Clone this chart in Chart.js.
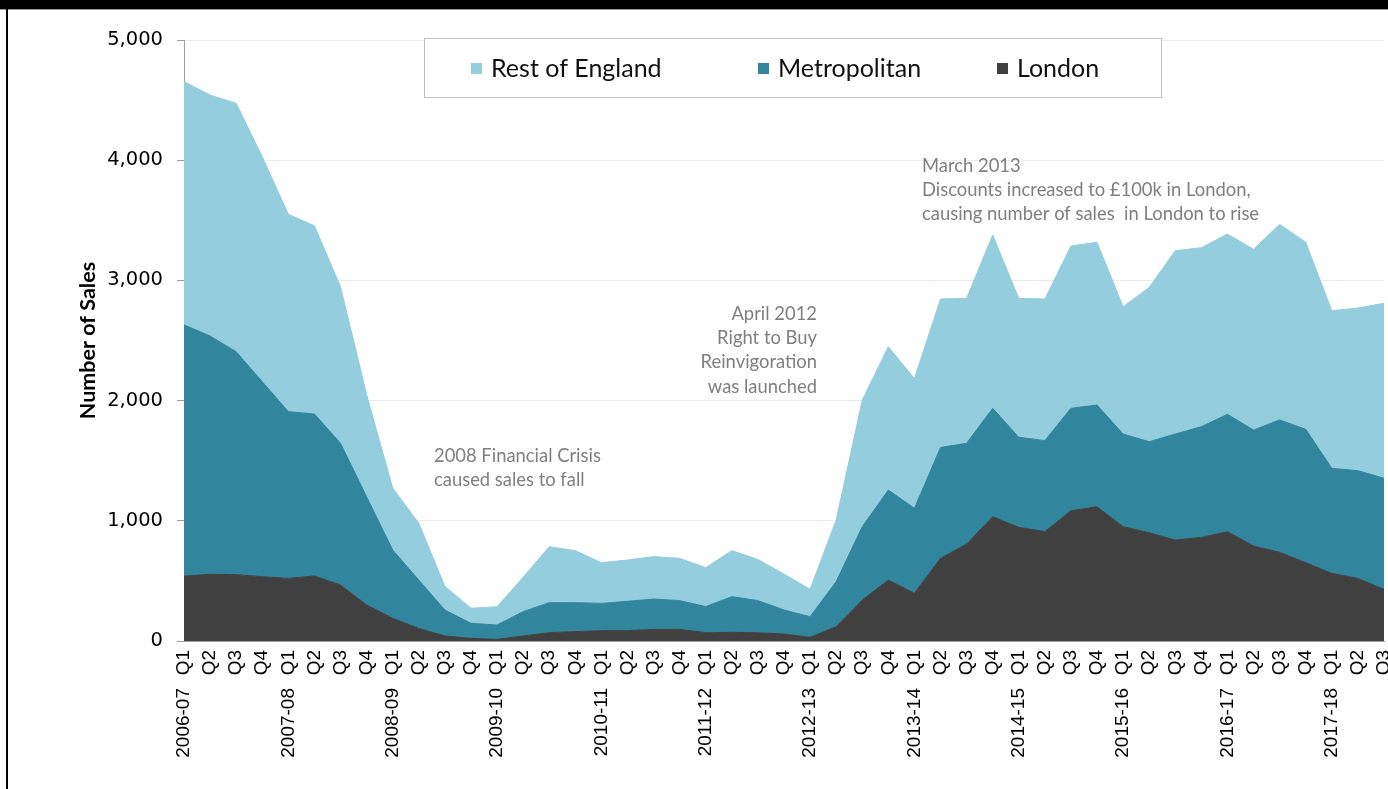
<!DOCTYPE html>
<html>
<head>
<meta charset="utf-8">
<script src="https://cdn.jsdelivr.net/npm/chart.js@4.4.0/dist/chart.umd.min.js"></script>
<style>
  html, body { margin: 0; padding: 0; background: #fff; }
  #wrap { position: relative; width: 1388px; height: 789px; overflow: hidden; }
  #topBand { position: absolute; left: 0; top: 0; width: 1388px; height: 9px; background: #000; border-bottom: 1px solid #999; }
  #leftLine { position: absolute; left: 6px; top: 0; width: 2px; height: 789px; background: #000; }
  canvas { position: absolute; left: 0; top: 0; }
</style>
</head>
<body>
<div id="wrap">
  <canvas id="myChart" width="1388" height="789"></canvas>
  <div id="topBand"></div>
  <div id="leftLine"></div>
</div>
<script>
// Quarter labels (2006-07 Q1 to 2017-18 Q3)
let quarterLabels = [
  'Q1','Q2','Q3','Q4', 'Q1','Q2','Q3','Q4', 'Q1','Q2','Q3','Q4',
  'Q1','Q2','Q3','Q4', 'Q1','Q2','Q3','Q4', 'Q1','Q2','Q3','Q4',
  'Q1','Q2','Q3','Q4', 'Q1','Q2','Q3','Q4', 'Q1','Q2','Q3','Q4',
  'Q1','Q2','Q3','Q4', 'Q1','Q2','Q3','Q4', 'Q1','Q2','Q3'
];
let yearLabels = [
  '2006-07','','','', '2007-08','','','', '2008-09','','','',
  '2009-10','','','', '2010-11','','','', '2011-12','','','',
  '2012-13','','','', '2013-14','','','', '2014-15','','','',
  '2015-16','','','', '2016-17','','','', '2017-18','',''
];

// Number of sales per quarter
let london = [540, 555, 552, 535, 521, 541, 466, 300, 189, 105,
  42, 22, 14, 42, 69, 78, 86, 86, 97, 97,
  69, 72, 69, 58, 31, 119, 341, 507, 397, 688,
  807, 1034, 946, 910, 1084, 1117, 951, 901, 840, 862,
  910, 790, 738, 651, 563, 521, 430];
let metropolitan = [2090, 1982, 1855, 1622, 1387, 1347, 1179, 900, 568, 402,
  216, 125, 119, 202, 250, 241, 227, 244, 252, 239,
  217, 297, 267, 200, 171, 375, 610, 749, 707, 922,
  838, 902, 749, 757, 852, 846, 771, 757, 882, 921,
  976, 965, 1101, 1110, 874, 896, 924];
let restOfEngland = [2023, 2005, 2066, 1872, 1642, 1567, 1303, 850, 516, 473,
  197, 126, 152, 286, 466, 433, 339, 344, 353, 352,
  324, 383, 343, 299, 228, 513, 1054, 1192, 1079, 1235,
  1206, 1442, 1156, 1178, 1350, 1354, 1059, 1284, 1525, 1489,
  1500, 1504, 1628, 1556, 1311, 1353, 1455];

// Annotation texts
let crisisNote = ['2008 Financial Crisis', 'caused sales to fall'];
let rtbNote = ['April 2012', 'Right to Buy', 'Reinvigoration', 'was launched'];
let discountNote = ['March 2013', 'Discounts increased to \u00a3100k in London,', 'causing number of sales  in London to rise'];

let londonColour = '#404040';
let metroColour = '#31859c';
let restColour = '#94cddd';

// Boxed legend drawn over the top of the plot
let legendBox = {
  id: 'legendBox',
  afterDraw(chart) {
    let c = chart.ctx;
    let itemX = [471, 758, 997];
    c.save();
    c.fillStyle = '#fff';
    c.fillRect(424.5, 38.5, 737, 59);
    c.strokeStyle = '#bfbfbf';
    c.lineWidth = 1;
    c.strokeRect(424.5, 38.5, 737, 59);
    c.font = '25px Lato';
    c.textBaseline = 'middle';
    chart.data.datasets.slice().reverse().forEach((ds, i) => {
      c.fillStyle = ds.backgroundColor;
      c.fillRect(itemX[i], 63, 11, 11);
      c.fillStyle = '#111';
      c.fillText(ds.label, itemX[i] + 20, 69);
    });
    c.restore();
  }
};

// Grey annotation text
let notes = {
  id: 'notes',
  afterDraw(chart) {
    let c = chart.ctx;
    c.save();
    c.font = '18.4px Lato';
    c.fillStyle = '#7f7f7f';
    c.textBaseline = 'middle';
    c.textAlign = 'left';
    crisisNote.forEach((t, i) => c.fillText(t, 434, 456 + i * 24));
    discountNote.forEach((t, i) => c.fillText(t, 922, 166 + i * 24));
    c.textAlign = 'right';
    rtbNote.forEach((t, i) => c.fillText(t, 817, 314 + i * 24.2));
    c.restore();
  }
};

let canvas = document.getElementById('myChart').getContext('2d');

let salesChart = new Chart(canvas, {
  type: 'line',
  data: {
    labels: quarterLabels,
    datasets: [
      { label: 'London', data: london, backgroundColor: londonColour, borderColor: londonColour, fill: 'origin' },
      { label: 'Metropolitan', data: metropolitan, backgroundColor: metroColour, borderColor: metroColour, fill: '-1' },
      { label: 'Rest of England', data: restOfEngland, backgroundColor: restColour, borderColor: restColour, fill: '-1' }
    ]
  },
  options: {
    responsive: false,
    animation: false,
    elements: {
      point: { radius: 0, hoverRadius: 0 },
      line: { borderWidth: 1, tension: 0 }
    },
    layout: { padding: { left: 10, right: 4, top: 40, bottom: 0 } },
    plugins: {
      legend: { display: false },
      tooltip: { enabled: false }
    },
    scales: {
      x: {
        offset: false,
        grid: { display: false, drawTicks: false },
        border: { display: true, color: '#a0a0a0' },
        ticks: {
          autoSkip: false, minRotation: 90, maxRotation: 90,
          padding: 9, color: '#000',
          font: { family: 'Liberation Sans, Arial, sans-serif', size: 19 }
        },
        afterFit(s) { s.height = 36; s.paddingLeft = 0; s.paddingRight = 0; }
      },
      x2: {
        type: 'category',
        labels: yearLabels,
        position: 'bottom',
        offset: false,
        grid: { display: false, drawTicks: false },
        border: { display: false },
        ticks: {
          autoSkip: false, minRotation: 90, maxRotation: 90,
          padding: 11, color: '#000',
          font: { family: 'Liberation Sans, Arial, sans-serif', size: 19 }
        },
        afterFit(s) { s.height = 112; s.paddingLeft = 0; s.paddingRight = 0; }
      },
      y: {
        stacked: true,
        min: 0,
        max: 5000,
        grid: { color: '#ebebeb', tickColor: '#a0a0a0', tickLength: 7 },
        border: { color: '#a0a0a0' },
        ticks: {
          stepSize: 1000,
          padding: 14,
          color: '#000',
          font: { family: 'DejaVu Sans', size: 19.5 },
          callback: v => v.toLocaleString('en-US')
        },
        title: {
          display: true,
          text: 'Number of Sales',
          color: '#000',
          padding: { top: 65, bottom: 0 },
          font: { family: 'Lato', size: 21.5, weight: 'bold' }
        },
        afterFit(s) { s.width = 174; s.paddingTop = 0; s.paddingBottom = 0; }
      }
    }
  },
  plugins: [legendBox, notes]
});
</script>
</body>
</html>
